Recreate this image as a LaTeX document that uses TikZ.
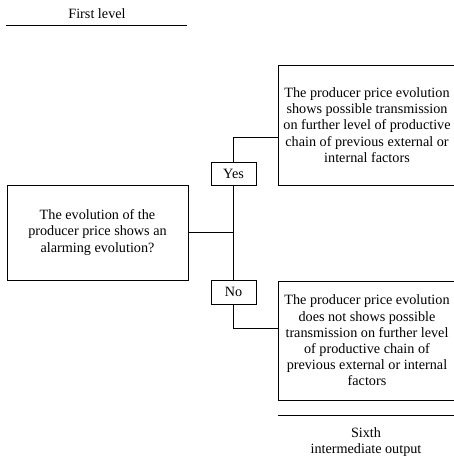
\documentclass[tikz,border=0pt]{standalone}
\usepackage{fontspec}
\setmainfont{Liberation Serif}
\begin{document}
\begin{tikzpicture}[x=1pt,y=-1pt,
  every node/.style={font=\fontsize{14.2}{16.2}\selectfont, align=center, inner sep=0pt},
  box/.style={draw, line width=0.8pt},
  conn/.style={line width=0.8pt},
  rule/.style={line width=0.8pt}]
\useasboundingbox (0,0) rectangle (454,456);
% heading
\node (first) at (97,14) {First level};
\coordinate (fl1) at (6,25);
\coordinate (fl2) at (187,25);
\draw[rule] (fl1) -- (fl2);
% boxes
\node[box, minimum width=181pt, minimum height=95pt] (left) at (97.5,232.5)
  {The evolution of the\\producer price shows an\\alarming evolution?};
\node[box, minimum width=45pt, minimum height=23pt] (yes) at (233.5,173.5) {Yes};
\node[box, minimum width=45pt, minimum height=24pt] (no) at (233.5,292) {No};
\node[box, minimum width=178pt, minimum height=120pt] (top) at (367,125)
  {The producer price evolution\\shows possible transmission\\on further level of productive\\chain of previous external or\\internal factors};
\node[box, minimum width=178pt, minimum height=119pt] (bot) at (367,340.5)
  {The producer price evolution\\does not shows possible\\transmission on further level\\of productive chain of\\previous external or internal\\factors};
% connectors
\coordinate (ty) at (278,137);
\coordinate (by) at (278,328);
\draw[conn] (left.east) -- (yes.south |- left.east);
\draw[conn] (yes.south) -- (no.north);
\draw[conn] (yes.north) |- (ty);
\draw[conn] (no.south) |- (by);
% bottom label
\coordinate (sl1) at (278,415);
\coordinate (sl2) at (454,415);
\draw[rule] (sl1) -- (sl2);
\node (sixth) at (366,442) {Sixth\\intermediate output};
\end{tikzpicture}
\end{document}
